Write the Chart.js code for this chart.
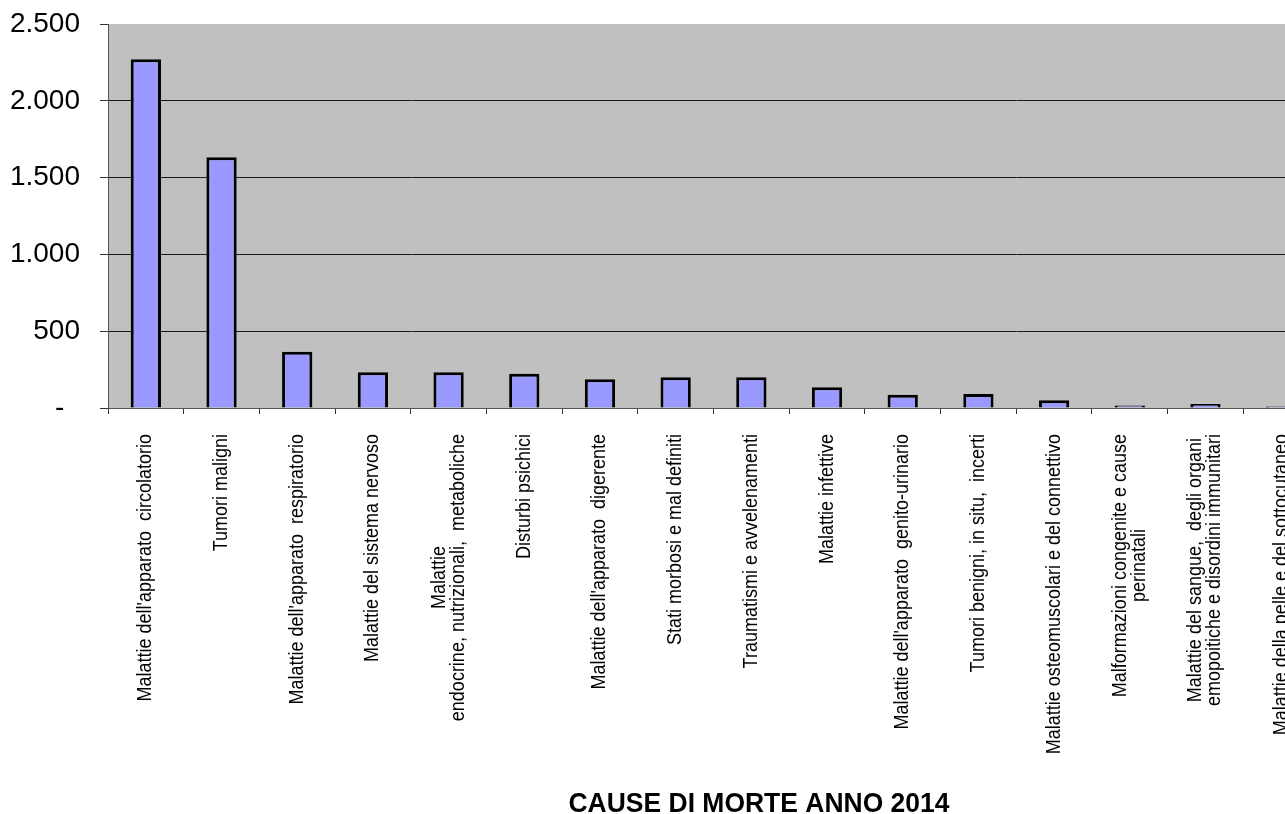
<!DOCTYPE html>
<html>
<head>
<meta charset="utf-8">
<script src="https://cdn.jsdelivr.net/npm/chart.js@4/dist/chart.umd.min.js"></script>
<style>
  html, body { margin: 0; padding: 0; background: #ffffff; overflow: hidden; }
  #wrap { width: 1330px; height: 814px; }
</style>
</head>
<body>
<div id="wrap"><canvas id="c" width="1330" height="814"></canvas></div>
<script>
// ---- data ----
const categories = [
  "Malattie dell'apparato  circolatorio",
  "Tumori maligni",
  "Malattie dell'apparato  respiratorio",
  "Malattie del sistema nervoso",
  ["Malattie", "endocrine, nutrizionali,  metaboliche"],
  "Disturbi psichici",
  "Malattie dell'apparato  digerente",
  "Stati morbosi e mal definiti",
  "Traumatismi e avvelenamenti",
  "Malattie infettive",
  "Malattie dell'apparato  genito-urinario",
  "Tumori benigni, in situ,  incerti",
  "Malattie osteomuscolari e del connettivo",
  ["Malformazioni congenite e cause", "perinatali"],
  ["Malattie del sangue,  degli organi", "emopoitiche e disordini immunitari"],
  "Malattie della pelle e del sottocutaneo"
];
const deaths = [2270, 1632, 367, 232, 232, 223, 187, 200, 200, 135, 87, 91, 50, 17, 26, 9];
const yTickValues = [0, 500, 1000, 1500, 2000, 2500];
const yTickLabels = ["-  ", "500", "1.000", "1.500", "2.000", "2.500"];
const chartTitle = "CAUSE DI MORTE ANNO 2014";

// ---- plugins ----
const plotBg = {
  id: 'plotBg',
  beforeDraw(chart) {
    const a = chart.chartArea, ctx = chart.ctx;
    ctx.save();
    ctx.fillStyle = '#C0C0C0';
    ctx.fillRect(a.left, a.top, a.right - a.left, a.bottom - a.top);
    ctx.restore();
  }
};

const xLabels = {
  id: 'xLabels',
  afterDraw(chart) {
    const ctx = chart.ctx, xs = chart.scales.x, a = chart.chartArea;
    const topY = a.bottom + 26;
    const lh = 19;
    const sx = 0.9;
    ctx.save();
    ctx.font = '20px "Liberation Sans", Arial, sans-serif';
    ctx.fillStyle = '#000';
    ctx.textAlign = 'center';
    ctx.textBaseline = 'middle';
    categories.forEach((lab, i) => {
      const lines = Array.isArray(lab) ? lab : [lab];
      const x = xs.getPixelForTick(i);
      const maxW = Math.max(...lines.map(l => ctx.measureText(l).width)) * sx;
      lines.forEach((l, j) => {
        const cx = x + (j - (lines.length - 1) / 2) * lh;
        ctx.save();
        ctx.translate(cx, topY + maxW / 2);
        ctx.rotate(-Math.PI / 2);
        ctx.scale(sx, 1);
        ctx.fillText(l, 0, 0);
        ctx.restore();
      });
    });
    // axis title
    ctx.font = 'bold 27px "Liberation Sans", Arial, sans-serif';
    ctx.textAlign = 'center';
    ctx.textBaseline = 'alphabetic';
    const w = ctx.measureText(chartTitle).width;
    ctx.translate(759, 812);
    ctx.scale(381 / w, 1);
    ctx.fillText(chartTitle, 0, 0);
    ctx.restore();
  }
};

new Chart(document.getElementById('c'), {
  type: 'bar',
  data: {
    labels: categories,
    datasets: [{
      data: deaths,
      backgroundColor: '#9999FF',
      borderColor: '#000000',
      borderWidth: 3,
      barPercentage: 0.4,
      categoryPercentage: 1.0
    }]
  },
  options: {
    responsive: false,
    animation: false,
    devicePixelRatio: 1,
    layout: { padding: { left: 0, top: 24, right: 11, bottom: 0 } },
    plugins: { legend: { display: false }, tooltip: { enabled: false }, title: { display: false } },
    scales: {
      x: {
        grid: { display: true, drawOnChartArea: false, drawTicks: true, tickLength: 6, tickColor: '#333', offset: true },
        border: { display: true, color: '#555', width: 1 },
        ticks: { display: false },
        afterFit(s) { s.height = 406; s.paddingLeft = 0; s.paddingRight = 0; }
      },
      y: {
        min: 0, max: 2500,
        afterBuildTicks(s) { s.ticks = yTickValues.map(v => ({ value: v })); },
        ticks: {
          padding: 20,
          color: '#000',
          font: { family: '"Liberation Sans", Arial, sans-serif', size: 28 },
          callback: (v) => yTickLabels[yTickValues.indexOf(v)]
        },
        grid: {
          color: (c) => (c.tick && (c.tick.value === 0 || c.tick.value === 2500)) ? 'rgba(0,0,0,0)' : '#1a1a1a',
          tickColor: '#333',
          tickLength: 8,
          lineWidth: 1
        },
        border: { display: true, color: '#555', width: 1 },
        afterFit(s) { s.width = 108; s.paddingTop = 0; s.paddingBottom = 0; }
      }
    }
  },
  plugins: [plotBg, xLabels]
});
</script>
</body>
</html>
